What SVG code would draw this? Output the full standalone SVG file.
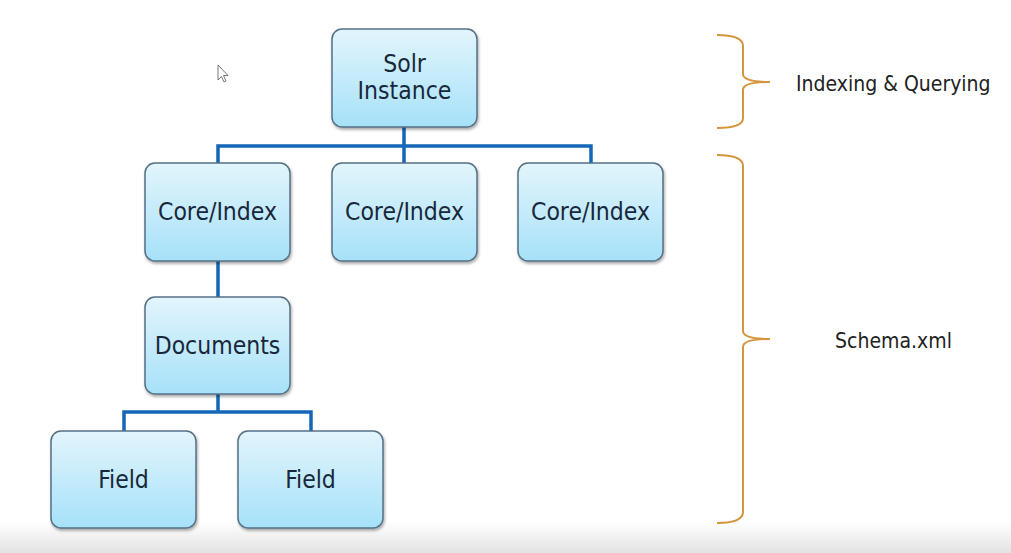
<svg xmlns="http://www.w3.org/2000/svg" width="1011" height="553" viewBox="0 0 1011 553">
<defs>
<linearGradient id="box" x1="0" y1="0" x2="0" y2="1">
<stop offset="0" stop-color="#e2f5fc"/>
<stop offset="1" stop-color="#a6e1f9"/>
</linearGradient>
<linearGradient id="floor" x1="0" y1="0" x2="0" y2="1">
<stop offset="0" stop-color="#ffffff"/>
<stop offset="1" stop-color="#e2e2e2"/>
</linearGradient>
<filter id="sh" x="-10%" y="-10%" width="130%" height="130%">
<feGaussianBlur in="SourceAlpha" stdDeviation="1.5"/>
<feOffset dx="1" dy="2" result="b"/>
<feComponentTransfer><feFuncA type="linear" slope="0.35"/></feComponentTransfer>
<feMerge><feMergeNode/><feMergeNode in="SourceGraphic"/></feMerge>
</filter>
</defs>
<style>
.node rect{fill:url(#box);stroke:#557085;stroke-width:1.5;filter:url(#sh)}
.node text{font-family:"DejaVu Sans Condensed","DejaVu Sans",Verdana,sans-serif;font-stretch:condensed;font-size:24.5px;fill:#17283a;text-anchor:middle}
.conn{fill:none;stroke:#1467b8;stroke-width:3.5}
.brace{fill:none;stroke:#d4953c;stroke-width:2}
.lbl{font-family:"DejaVu Sans Condensed","DejaVu Sans",Verdana,sans-serif;font-stretch:condensed;font-size:21px;fill:#222}
</style>
<rect x="0" y="0" width="1011" height="553" fill="#ffffff"/>
<rect x="0" y="522" width="1011" height="31" fill="url(#floor)"/>
<g id="connectors">
<path class="conn" d="M404,127 V146 M218,163 V146 H591 V163 M404,146 V163"/>
<path class="conn" d="M218,261 V297"/>
<path class="conn" d="M218,394 V412 M124,431 V412 H311 V431"/>
</g>
<g id="solr" class="node"><rect x="332" y="29" width="145" height="98" rx="10"/><text x="404.5" y="72">Solr</text><text x="404.5" y="99">Instance</text></g>
<g id="core1" class="node"><rect x="145" y="163" width="145" height="98" rx="10"/><text x="217.5" y="220">Core/Index</text></g>
<g id="core2" class="node"><rect x="332" y="163" width="145" height="98" rx="10"/><text x="404.5" y="220">Core/Index</text></g>
<g id="core3" class="node"><rect x="518" y="163" width="145" height="98" rx="10"/><text x="590.5" y="220">Core/Index</text></g>
<g id="documents" class="node"><rect x="145" y="297" width="145" height="97" rx="10"/><text x="217.5" y="354">Documents</text></g>
<g id="field1" class="node"><rect x="51" y="431" width="145" height="97" rx="10"/><text x="123.5" y="488">Field</text></g>
<g id="field2" class="node"><rect x="238" y="431" width="145" height="97" rx="10"/><text x="310.5" y="488">Field</text></g>
<g id="brace-top">
<path class="brace" d="M717,35 Q743,35 743,46 L743,74 Q743,82 770,82 Q743,82 743,90 L743,118 Q743,128 717,128"/>
<text class="lbl" x="796" y="91">Indexing &amp; Querying</text>
</g>
<g id="brace-bottom">
<path class="brace" d="M717,155 Q743,155 743,166 L743,331 Q743,339 770,339 Q743,339 743,347 L743,512 Q743,523 717,523"/>
<text class="lbl" x="893.5" y="347.5" text-anchor="middle">Schema.xml</text>
</g>
<path d="M218,65 L218,80 L221.5,76.5 L224,82 L226,81 L223.5,75.5 L228,75.5 Z" fill="#ffffff" stroke="#555" stroke-width="0.8"/>
</svg>
